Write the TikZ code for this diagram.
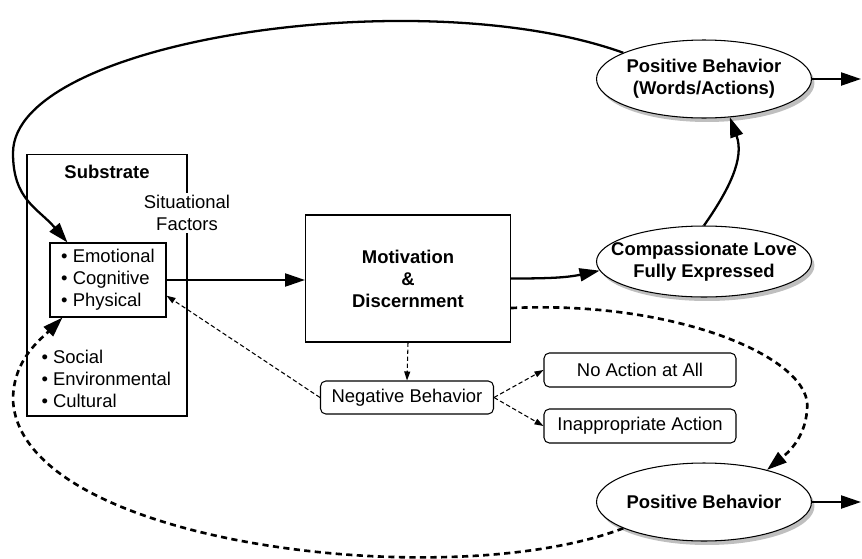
\documentclass[tikz,border=0pt]{standalone}
\usepackage{fontspec}
\setmainfont{Liberation Sans}
\usetikzlibrary{shapes.geometric, arrows.meta, positioning, calc, shadows}
\tikzstyle{frame} = [rectangle, draw=black, line width=0.6pt, inner sep=0pt]
\tikzstyle{process} = [rectangle, draw=black, fill=white, line width=0.6pt, align=center]
\tikzstyle{choice} = [process, rounded corners=3pt, minimum width=3.84cm, minimum height=0.68cm]
\tikzstyle{oval} = [ellipse, draw=black, fill=white, line width=0.6pt, align=center,
                    font=\bfseries, inner xsep=-5mm, inner ysep=0pt,
                    minimum width=4.3cm, minimum height=1.56cm,
                    drop shadow={shadow xshift=0.6mm, shadow yshift=-0.8mm, fill=black!25, opacity=1}]
\tikzstyle{arrow} = [-{Triangle[length=4mm, width=2.6mm]}, line width=1.3pt]
\tikzstyle{dotarrow} = [arrow, line width=1.5pt, dash pattern=on 3.5pt off 2.5pt]
\tikzstyle{thinarrow} = [-{Triangle[length=1.8mm, width=1.2mm]}, line width=0.6pt,
                         dash pattern=on 2.5pt off 1.5pt]
\begin{document}
\fontsize{10.5}{12.5}\selectfont
\begin{tikzpicture}[x=0.02cm, y=-0.02cm]
    \useasboundingbox (0,0) rectangle (862,558);

    % Substrate
    \node[frame, minimum width=3.2cm, minimum height=5.24cm] (sub) at (107,285) {};
    \node[font=\bfseries] (subname) at (107,172) {Substrate};
    \node[fill=white, align=center, inner sep=1pt] (situ) at (187,213) {Situational\\Factors};
    \node[process, align=left, minimum width=2.32cm, minimum height=1.48cm] (ecp) at (108,280)
        {• Emotional\\• Cognitive\\• Physical};
    \node[align=left, anchor=west] (soc) at (35,379) {• Social\\• Environmental\\• Cultural};

    % Middle column
    \node[process, font=\bfseries, minimum width=4.1cm, minimum height=2.54cm] (motiv) at (408,278.5)
        {Motivation\\\&\\Discernment};
    \node[process, rounded corners=3pt, minimum width=3.46cm, minimum height=0.66cm] (neg) at (407,397.5)
        {Negative Behavior};
    \node[choice] (noact) at (640,370) {No Action at All};
    \node[choice] (inapp) at (640,426) {Inappropriate Action};

    % Right column
    \node[oval] (pbtop) at (704,79) {Positive Behavior\\(Words/Actions)};
    \node[oval, minimum height=1.42cm] (love) at (704,261.5) {Compassionate Love\\Fully Expressed};
    \node[oval] (pbbot) at (704,502) {Positive Behavior};
    \coordinate (outtop) at (861,79);
    \coordinate (outbot) at (861,502);

    % Solid arrows
    \draw[arrow] (ecp.east) -- (ecp.east -| motiv.west);
    \draw[arrow] (motiv.east) to[out=0, in=192] (love.185);
    \draw[arrow] (love.north) to[out=55, in=-70] (pbtop.-56);
    \draw[arrow] (pbtop.east) -- (outtop);
    \draw[arrow] (pbbot.east) -- (outbot);
    \draw[arrow] (pbtop.162) .. controls (421,-20) and (13,40) .. (13,153)
        .. controls (13,200) and (38,208) .. ($(ecp.north west)+(18,0)$);

    % Dotted loop
    \draw[dotarrow] (motiv.-16) .. controls (680,300) and (815,360) .. (807,410)
        .. controls (805,440) and (785,455) .. (pbbot.27);
    \draw[dotarrow] (pbbot.198) .. controls (450,595) and (20,545) .. (13,400)
        .. controls (13,360) and (40,340) .. ($(ecp.south west)+(13,0)$);

    % Negative branch
    \draw[thinarrow] (motiv.south) -- (neg.north);
    \draw[thinarrow] (neg.west) -- (ecp.-15);
    \draw[thinarrow] (neg.east) -- (noact.west);
    \draw[thinarrow] (neg.east) -- (inapp.west);
\end{tikzpicture}
\end{document}
